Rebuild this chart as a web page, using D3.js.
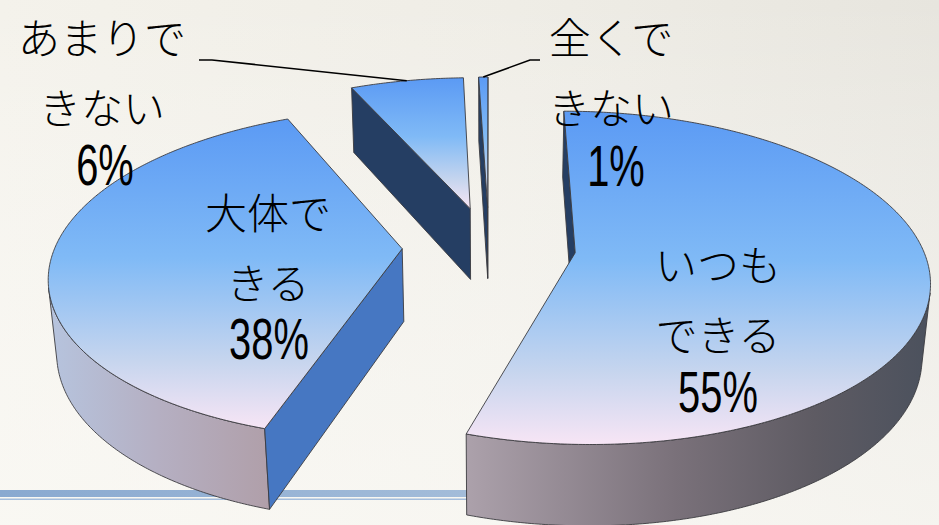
<!DOCTYPE html>
<html><head><meta charset="utf-8">
<script src="https://cdn.jsdelivr.net/npm/d3@7"></script>
<style>html,body{margin:0;padding:0;background:#f3f1eb;overflow:hidden}svg{display:block}</style>
</head><body>
<svg id="chart" width="939" height="525"></svg>
<script>
// ---- data ----
const categories = ["いつもできる", "大体できる", "あまりできない", "全くできない"];
const values = [54.9, 38.4, 6.2, 0.5];
const labelLines = [["いつも", "できる"], ["大体で", "きる"], ["あまりで", "きない"], ["全くで", "きない"]];

// ---- layout / style ----
const W = 939, H = 525;
const P = {cx: 489, cy: 246.5, F: 347, G: 161, A: 0.15, TH: 74, BH: 0.019};
const explode = 0.25;
const labelPos = [
  {x: 718, y: 262, pct: [718, 392]},
  {x: 268, y: 210, pct: [269, 339]},
  {x: 102, y: 35, pct: [105, 165]},
  {x: 611, y: 35, pct: [616, 166]}
];
const leaderStart = [null, null, [[199, 60], [212, 60]], [[540, 60], [530, 60]]];
const wallStops = [
  [[0, "#aca1ab"], [0.45, "#7a717a"], [0.75, "#5e5b63"], [1, "#4b515d"]],
  [[0, "#b6c4de"], [0.5, "#b5afc2"], [1, "#b09fa9"]],
  [[0, "#8a9ab5"], [1, "#5a6a85"]],
  [[0, "#8a9ab5"], [1, "#5a6a85"]]
];

const svg = d3.select("#chart");
const defs = svg.append("defs");

// background
const bg = defs.append("linearGradient").attr("id", "bg").attr("x1", 0).attr("x2", 1).attr("y1", 0).attr("y2", 0);
bg.append("stop").attr("offset", 0).attr("stop-color", "#f4f2eb");
bg.append("stop").attr("offset", 0.55).attr("stop-color", "#efede6");
bg.append("stop").attr("offset", 1).attr("stop-color", "#e7e5de");
svg.append("rect").attr("width", W).attr("height", H).attr("fill", "url(#bg)");
const bg2 = defs.append("linearGradient").attr("id", "bg2").attr("x1", 0).attr("x2", 0).attr("y1", 0).attr("y2", 1);
bg2.append("stop").attr("offset", 0).attr("stop-color", "#ffffff").attr("stop-opacity", 0);
bg2.append("stop").attr("offset", 1).attr("stop-color", "#fbfaf6").attr("stop-opacity", 0.7);
svg.append("rect").attr("width", W).attr("height", H).attr("fill", "url(#bg2)");

// bottom blue stripe
const sg = defs.append("linearGradient").attr("id", "stripe").attr("x1", 0).attr("x2", 1).attr("y1", 0).attr("y2", 0);
sg.append("stop").attr("offset", 0).attr("stop-color", "#89a9d0");
sg.append("stop").attr("offset", 0.6).attr("stop-color", "#a3bcd9");
sg.append("stop").attr("offset", 1).attr("stop-color", "#d3dde9");
svg.append("rect").attr("x", 0).attr("y", 490).attr("width", 780).attr("height", 7).attr("fill", "url(#stripe)");
svg.append("rect").attr("x", 0).attr("y", 498.5).attr("width", 470).attr("height", 1.5).attr("fill", "#a4bddc");

// top gradient
const tg = defs.append("linearGradient").attr("id", "topGrad").attr("x1", 0).attr("x2", 0).attr("y1", 0).attr("y2", 1);
[[0, "#5b9af4"], [0.45, "#80baf6"], [0.78, "#c6d5ee"], [1, "#f7e5f5"]].forEach(s =>
  tg.append("stop").attr("offset", s[0]).attr("stop-color", s[1]));

// ---- projection ----
function proj(X, Z, d) {
  const w = 1 - P.A * Z + P.BH * d;
  return [P.cx + P.F * X / w, P.cy + (P.G * Z + P.TH * d) / w];
}
const camD = -1 / (P.A * P.TH / P.G + P.BH);
const cam = {X: 0, Z: -P.TH * camD / P.G};

const arcs = d3.pie().sort(null).value(d => d)(values);
const total = d3.sum(values);
const slices = arcs.map((a, i) => {
  const mid = (a.startAngle + a.endAngle) / 2;
  return {i, a0: a.startAngle, a1: a.endAngle, mid,
    ox: explode * Math.sin(mid), oz: -explode * Math.cos(mid)};
});
const pt = (s, t) => [s.ox + Math.sin(t), s.oz - Math.cos(t)];
function thetas(a0, a1) {
  const n = Math.max(2, Math.ceil((a1 - a0) / (Math.PI / 360)));
  return d3.range(n + 1).map(k => a0 + (a1 - a0) * k / n);
}
const line = d3.line().curve(d3.curveLinearClosed);
const stroke = "#3b3b40";

const order = slices.slice().sort((a, b) => a.oz - b.oz);
const g = svg.append("g");
order.forEach(s => {
  const ts = thetas(s.a0, s.a1);
  const sl = g.append("g");
  // wall
  const vis = ts.map(t => {
    const [X, Z] = pt(s, t);
    return Math.sin(t) * (cam.X - X) - Math.cos(t) * (cam.Z - Z) > 0;
  });
  const runs = [];
  let cur = null;
  vis.forEach((v, k) => {
    if (v) { if (!cur) { cur = []; runs.push(cur); if (k > 0) cur.push(k - 1); } cur.push(k); }
    else if (cur) { cur.push(k); cur = null; }
  });
  runs.forEach((run, ri) => {
    const top = run.map(k => proj(...pt(s, ts[k]), 0));
    const bot = run.map(k => proj(...pt(s, ts[k]), 1)).reverse();
    const xs = top.concat(bot).map(p => p[0]);
    const gid = "wall" + s.i + "_" + ri;
    const wg = defs.append("linearGradient").attr("id", gid).attr("gradientUnits", "userSpaceOnUse")
      .attr("x1", d3.min(xs)).attr("x2", d3.max(xs)).attr("y1", 0).attr("y2", 0);
    wallStops[s.i].forEach(st => wg.append("stop").attr("offset", st[0]).attr("stop-color", st[1]));
    sl.append("path").attr("d", line(top.concat(bot))).attr("fill", `url(#${gid})`)
      .attr("stroke", stroke).attr("stroke-width", 0.9).attr("stroke-linejoin", "round");
  });
  // radial faces
  [[s.a0, -1], [s.a1, 1]].forEach(([t, sgn]) => {
    const n = [sgn * Math.cos(t), sgn * Math.sin(t)];
    const dot = n[0] * (cam.X - s.ox) + n[1] * (cam.Z - s.oz);
    if (dot <= 0) return;
    const [X, Z] = pt(s, t);
    const poly = [proj(s.ox, s.oz, 0), proj(X, Z, 0), proj(X, Z, 1), proj(s.ox, s.oz, 1)];
    sl.append("path").attr("d", line(poly)).attr("fill", n[0] > 0 ? "#4677c2" : "#253e63")
      .attr("stroke", stroke).attr("stroke-width", 0.9).attr("stroke-linejoin", "round");
  });
  // top face
  const topPts = [proj(s.ox, s.oz, 0)].concat(ts.map(t => proj(...pt(s, t), 0)));
  sl.append("path").attr("d", line(topPts)).attr("fill", "url(#topGrad)")
    .attr("stroke", stroke).attr("stroke-width", 0.9).attr("stroke-linejoin", "round");
});

// ---- leader lines ----
const ll = d3.line();
slices.forEach(s => {
  if (!leaderStart[s.i]) return;
  const end = proj(...pt(s, s.mid), 0);
  svg.append("path").attr("d", ll(leaderStart[s.i].concat([end]))).attr("fill", "none")
    .attr("stroke", "#000").attr("stroke-width", 1.6);
});

// ---- labels ----
slices.forEach(s => {
  const lp = labelPos[s.i];
  labelLines[s.i].forEach((txt, k) => {
    svg.append("text").attr("x", lp.x).attr("y", lp.y + k * 70)
      .attr("text-anchor", "middle").attr("dominant-baseline", "central")
      .attr("font-family", "'Noto Sans CJK JP', sans-serif").attr("font-weight", 300)
      .attr("font-size", 42).attr("fill", "#000").text(txt);
  });
  const pctText = Math.round(values[s.i] / total * 100) + "%";
  svg.append("text").attr("transform", `translate(${lp.pct[0]},${lp.pct[1]}) scale(0.7,1)`)
    .attr("text-anchor", "middle").attr("dominant-baseline", "central")
    .attr("font-family", "'Liberation Sans', Arial, sans-serif")
    .attr("font-size", 57).attr("fill", "#000").text(pctText);
});
</script>
</body></html>
